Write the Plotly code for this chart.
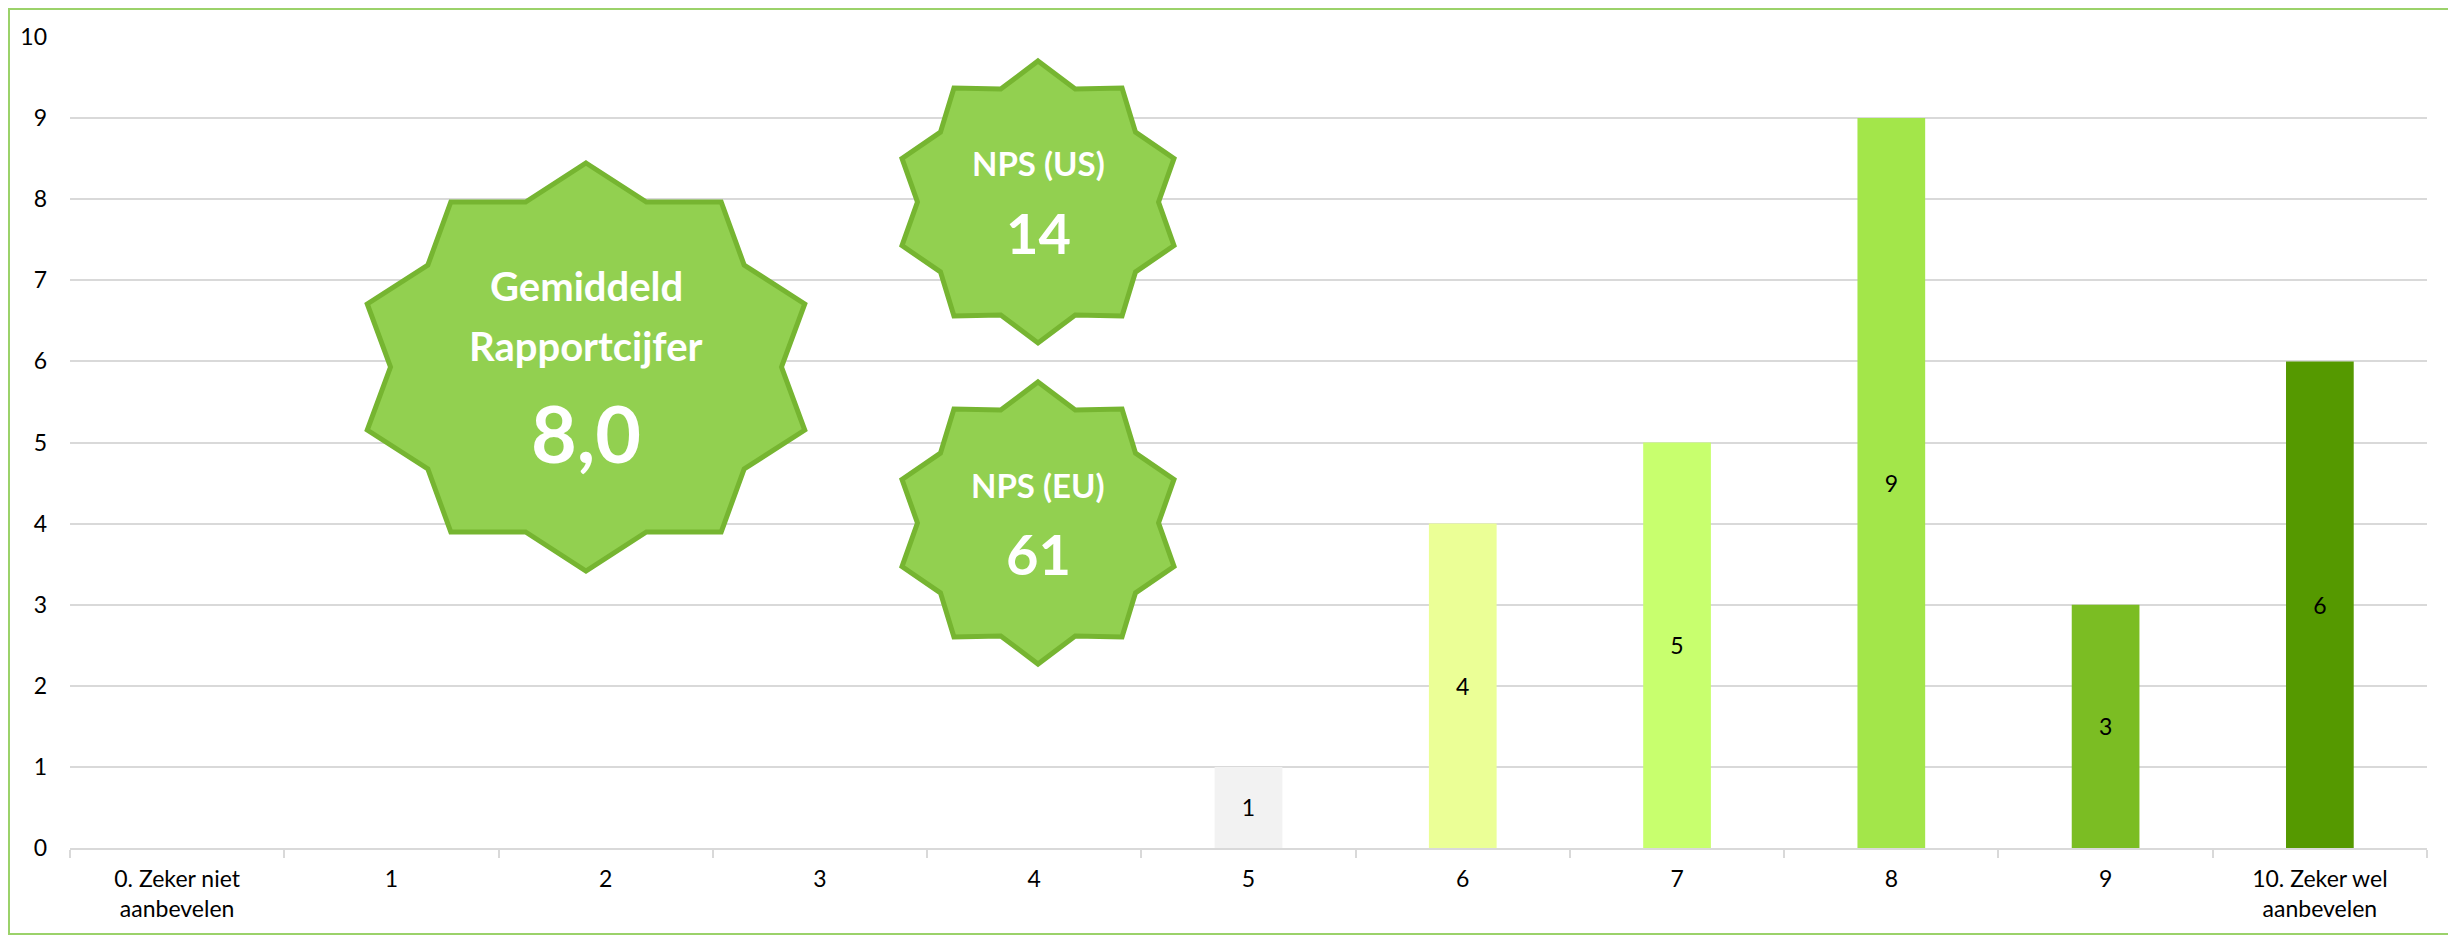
import math
import plotly.graph_objects as go

# ---- data ----
categories = ["0. Zeker niet<br>aanbevelen", "1", "2", "3", "4", "5", "6", "7", "8", "9",
              "10. Zeker wel<br>aanbevelen"]
counts = [0, 0, 0, 0, 0, 1, 4, 5, 9, 3, 6]
bar_colors = ["#F2F2F2", "#F2F2F2", "#F2F2F2", "#F2F2F2", "#F2F2F2", "#F2F2F2",
              "#EBFF96", "#C8FF6E", "#A3E64A", "#7BBD23", "#559900"]
y_ticks = list(range(0, 11))

avg_label = ["Gemiddeld", "Rapportcijfer"]
avg_value = "8,0"
nps_us_label = "NPS (US)"
nps_us_value = "14"
nps_eu_label = "NPS (EU)"
nps_eu_value = "61"

# ---- layout geometry (page pixels; page body has an 8px margin) ----
OFF = 8
W, H = 2456 - OFF, 936 - OFF
PLOT_L, PLOT_R, PLOT_T, PLOT_B = 70, 2427, 37, 848   # page coordinates
L = PLOT_L - OFF
T = PLOT_T - OFF
R = W - (PLOT_R - OFF)
B = H - (PLOT_B - OFF)
PW = PLOT_R - PLOT_L
PH = PLOT_B - PLOT_T


def px_to_paper(x, y):
    return (x - PLOT_L) / PW, (PLOT_B - y) / PH


def star_path(cx, cy, rx, ry, k):
    pts = []
    for i in range(20):
        a = math.radians(i * 18)
        f = 1.0 if i % 2 == 0 else k
        x = cx + rx * f * math.sin(a)
        y = cy - ry * f * math.cos(a)
        pts.append(px_to_paper(x, y))
    return "M " + " L ".join(f"{p[0]:.5f},{p[1]:.5f}" for p in pts) + " Z"


FONT = "Lato, Carlito, sans-serif"

fig = go.Figure()
fig.add_trace(go.Bar(
    x=categories, y=counts,
    marker=dict(color=bar_colors, line=dict(width=0)),
    text=[str(v) if v else "" for v in counts],
    textposition="inside", insidetextanchor="middle",
    textfont=dict(family=FONT, size=23, color="#000000"),
    textangle=0,
    hoverinfo="x+y",
))

shapes = []
# outer chart border
bx0, by0 = px_to_paper(OFF + 1, OFF + 1)
bx1, by1 = px_to_paper(2449, 934)
shapes.append(dict(type="rect", xref="paper", yref="paper", x0=bx0, y0=by1, x1=bx1, y1=by0,
                   line=dict(color="#9BD26A", width=2), fillcolor="rgba(0,0,0,0)", layer="below"))

star_fill = "#92D050"
star_line = "#76B531"
stars = [
    (586, 367, 230, 204, 0.85),
    (1038, 202, 143, 141, 0.843),
    (1038, 523, 143, 141, 0.843),
]
for cx, cy, rx, ry, k in stars:
    shapes.append(dict(type="path", xref="paper", yref="paper",
                       path=star_path(cx, cy, rx, ry, k),
                       fillcolor=star_fill, line=dict(color=star_line, width=5), layer="above"))

annotations = []


def add_text(txt, x, y, size):
    px, py = px_to_paper(x, y)
    annotations.append(dict(text=txt, x=px, y=py, xref="paper", yref="paper",
                            showarrow=False, xanchor="center", yanchor="middle",
                            font=dict(family=FONT, size=size, color="#FFFFFF", weight="bold"),
                            align="center"))


add_text(avg_label[0], 586, 286, 40)
add_text(avg_label[1], 586, 346, 40)
add_text(avg_value, 586, 432, 79)
add_text(nps_us_label, 1038, 163, 33)
add_text(nps_us_value, 1038, 232, 56)
add_text(nps_eu_label, 1038, 485, 33)
add_text(nps_eu_value, 1038, 553, 56)

fig.update_layout(
    width=W, height=H,
    margin=dict(l=L, r=R, t=T, b=B, autoexpand=False),
    paper_bgcolor="#FFFFFF", plot_bgcolor="#FFFFFF",
    bargap=0.684,
    showlegend=False,
    shapes=shapes,
    annotations=annotations,
    font=dict(family=FONT, size=23, color="#000000"),
    xaxis=dict(
        type="category", showgrid=False, showline=True, linecolor="#D9D9D9", linewidth=2,
        ticks="outside", tickson="boundaries", ticklen=8, tickcolor="#D9D9D9", tickwidth=2,
        ticklabelstandoff=9,
        tickfont=dict(size=23, color="#000000"), automargin=False, fixedrange=True,
    ),
    yaxis=dict(
        range=[0, 10], tickvals=y_ticks, showgrid=True, gridcolor="#D9D9D9", gridwidth=2,
        zeroline=False, showline=False, ticks="", ticklabelstandoff=22,
        tickfont=dict(size=23, color="#000000"), automargin=False, fixedrange=True,
    ),
)

fig.write_html("out.html")
